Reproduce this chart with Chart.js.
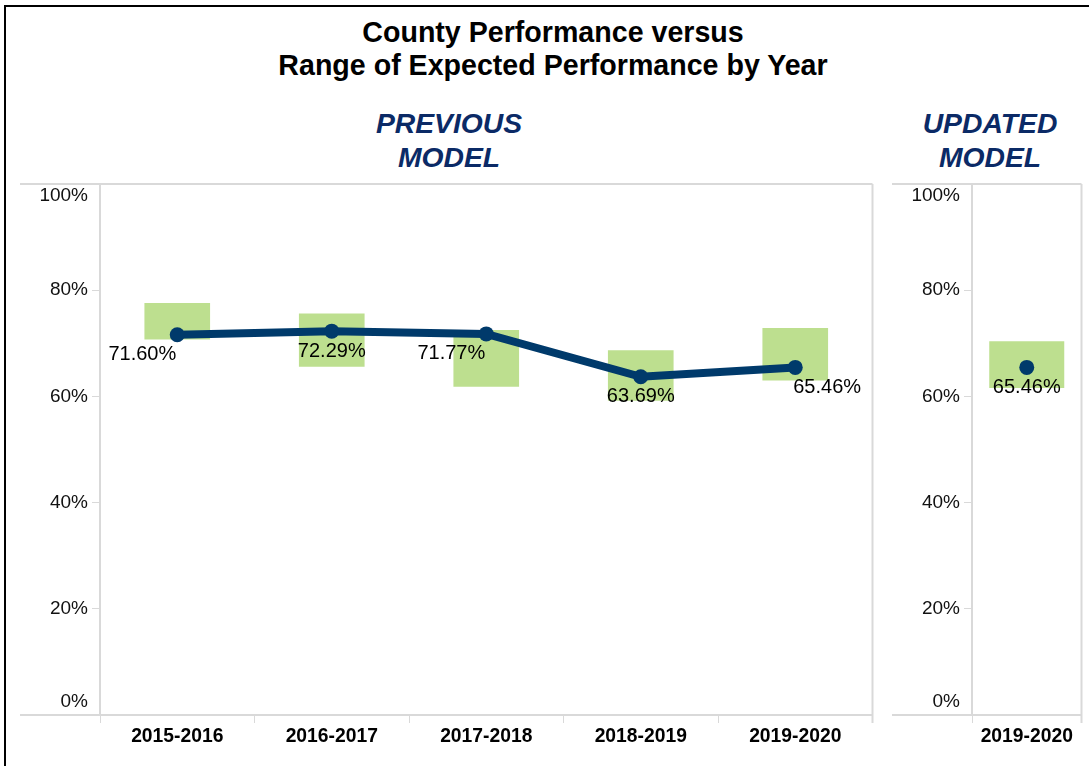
<!DOCTYPE html>
<html>
<head>
<meta charset="utf-8">
<script src="https://cdn.jsdelivr.net/npm/chart.js@4.4.1/dist/chart.umd.min.js"></script>
<style>
  body { margin: 0; background: #fff; width: 1089px; height: 766px; overflow: hidden; position: relative;
         font-family: "Liberation Sans", Arial, sans-serif; }
  .frame { position: absolute; left: 4px; top: 5px; width: 1100px; height: 800px;
           border-left: 2px solid #000; border-top: 2px solid #000; }
  .title { position: absolute; left: 0; width: 1106px; top: 16px; text-align: center;
           font-weight: bold; font-size: 28.6px; line-height: 33px; color: #000; }
  .model { position: absolute; top: 106px; text-align: center; font-weight: bold; font-style: italic;
           font-size: 28.3px; line-height: 34px; color: #0b2a66; }
  canvas { position: absolute; }
</style>
</head>
<body>
<div class="frame"></div>
<div class="title">County Performance versus<br>Range of Expected Performance by Year</div>
<div class="model" style="left:300px; width:298px;">PREVIOUS<br>MODEL</div>
<div class="model" style="left:900px; width:180px;">UPDATED<br>MODEL</div>
<canvas id="prev" width="860" height="596" style="left:20px; top:170px;"></canvas>
<canvas id="upd" width="209" height="596" style="left:880px; top:170px;"></canvas>

<script>
// previous model
const years = ["2015-2016", "2016-2017", "2017-2018", "2018-2019", "2019-2020"];
const countyPerf = [71.60, 72.29, 71.77, 63.69, 65.46];
const rangeLow = [70.7, 65.6, 61.8, 59.2, 63.0];
const rangeHigh = [77.6, 75.6, 72.5, 68.7, 72.9];

// updated model
const updYears = ["2019-2020"];
const updPerf = [65.46];
const updLow = [61.6];
const updHigh = [70.4];

const FONT = '"Liberation Sans", Arial, sans-serif';
const NAVY = "#003a6b";
const GREEN = "#bddf8f";
const GRID = "#d9d9d9";

// frame lines + y labels pushed inside at the ends
const panelFrame = {
  id: "panelFrame",
  afterDraw(chart, args, opts) {
    const { ctx, chartArea: a } = chart;
    const y = chart.scales.y;
    ctx.save();
    ctx.strokeStyle = GRID;
    ctx.lineWidth = 2;
    ctx.beginPath();
    ctx.moveTo(opts.lineStart, a.top);
    ctx.lineTo(a.right, a.top);
    ctx.moveTo(opts.lineStart, a.bottom);
    ctx.lineTo(a.right, a.bottom);
    ctx.moveTo(a.right, a.top);
    ctx.lineTo(a.right, a.bottom + 8);
    ctx.stroke();

    ctx.fillStyle = "#111";
    ctx.font = "19px " + FONT;
    ctx.textAlign = "right";
    ctx.textBaseline = "middle";
    y.ticks.forEach((t) => {
      let py = y.getPixelForValue(t.value);
      if (t.value === y.max) py += 12;
      if (t.value === y.min) py -= 13;
      ctx.fillText(t.value + "%", a.left - 12, py);
    });
    ctx.restore();
  },
  afterDatasetsDraw(chart, args, opts) {
    const { ctx } = chart;
    const meta = chart.getDatasetMeta(0);
    ctx.save();
    ctx.fillStyle = "#000";
    ctx.font = "20px " + FONT;
    ctx.textBaseline = "middle";
    meta.data.forEach((pt, i) => {
      const v = chart.data.datasets[0].data[i];
      const where = opts.placement[i];
      let x = pt.x;
      if (where === "left") { ctx.textAlign = "right"; x -= 1; }
      else if (where === "right") { ctx.textAlign = "left"; x -= 2; }
      else ctx.textAlign = "center";
      ctx.fillText(v.toFixed(2) + "%", x, pt.y + 20);
    });
    ctx.restore();
  },
};

function makeChart(id, labels, perf, low, high, opts) {
  return new Chart(document.getElementById(id), {
    type: "bar",
    data: {
      labels: labels,
      datasets: [
        {
          type: "line",
          data: perf,
          borderColor: NAVY,
          backgroundColor: NAVY,
          borderWidth: 8,
          pointRadius: 7.5,
          pointBorderWidth: 0,
          pointBackgroundColor: NAVY,
          tension: 0,
          order: 0,
        },
        {
          type: "bar",
          data: low.map((l, i) => [l, high[i]]),
          backgroundColor: GREEN,
          borderWidth: 0,
          barPercentage: opts.barPct,
          categoryPercentage: 1,
          order: 1,
        },
      ],
    },
    options: {
      responsive: false,
      animation: false,
      layout: { padding: { left: 0, right: opts.padRight, top: 14, bottom: 0 } },
      plugins: {
        legend: { display: false },
        tooltip: { enabled: false },
        panelFrame: { lineStart: opts.lineStart, placement: opts.placement },
      },
      scales: {
        x: {
          offset: true,
          grid: { offset: true, drawOnChartArea: false, drawTicks: true, tickLength: 8, color: GRID },
          border: { display: true, color: GRID, width: 2 },
          ticks: { color: "#000", font: { family: FONT, size: 19.3, weight: "bold" }, padding: 2, maxRotation: 0 },
          afterFit: (s) => { s.height = 51; },
        },
        y: {
          min: 0,
          max: 100,
          ticks: { stepSize: 20, display: false },
          grid: { drawOnChartArea: false, drawTicks: true, tickLength: 8, color: GRID },
          border: { display: true, color: GRID, width: 2 },
          afterFit: (s) => { s.width = opts.axisWidth; },
        },
      },
    },
    plugins: [panelFrame],
  });
}

makeChart("prev", years, countyPerf, rangeLow, rangeHigh, {
  barPct: 0.425, padRight: 4, axisWidth: 80, lineStart: 0,
  placement: ["left", "center", "left", "center", "right"],
});

makeChart("upd", updYears, updPerf, updLow, updHigh, {
  barPct: 0.685, padRight: 6, axisWidth: 92, lineStart: 12,
  placement: ["center"],
});
</script>
</body>
</html>
